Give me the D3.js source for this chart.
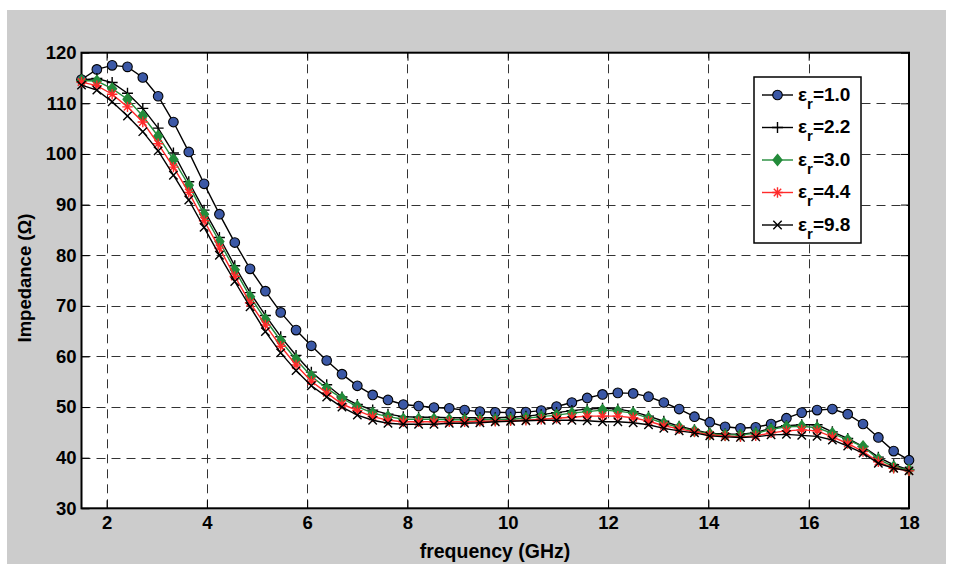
<!DOCTYPE html>
<html>
<head>
<meta charset="utf-8">
<script src="https://cdn.jsdelivr.net/npm/d3@7"></script>
<style>
  html, body { margin: 0; padding: 0; background: #ffffff; }
  svg { display: block; }
  text { font-family: "Liberation Sans", Arial, Helvetica, sans-serif; font-weight: bold; fill: #000; }
</style>
</head>
<body>
<svg id="chart" width="954" height="564"></svg>
<script>
// ---------------- data ----------------
const freq = [1.5,1.806,2.111,2.417,2.722,3.028,3.333,3.639,3.944,4.25,4.556,4.861,5.167,5.472,5.778,6.083,6.389,6.694,7,7.306,7.611,7.917,8.222,8.528,8.833,9.139,9.444,9.75,10.056,10.361,10.667,10.972,11.278,11.583,11.889,12.194,12.5,12.806,13.111,13.417,13.722,14.028,14.333,14.639,14.944,15.25,15.556,15.861,16.167,16.472,16.778,17.083,17.389,17.694,18];

const er10 = [114.7,116.7,117.5,117.2,115.1,111.4,106.3,100.4,94.1,88.1,82.5,77.3,72.9,68.7,65.2,62.1,59.2,56.5,54.2,52.4,51.4,50.5,50.2,49.9,49.75,49.4,49.1,48.97,48.9,49.0,49.3,50.1,50.9,51.8,52.5,52.8,52.7,52.05,50.9,49.6,48.1,47.0,46.1,45.8,46.0,46.65,47.8,48.9,49.4,49.6,48.6,46.65,44.0,41.3,39.5];
const er22 = [114.6,114.9,114.1,112.0,109.0,105.1,100.2,94.5,88.9,83.5,77.9,72.6,68.1,63.9,60.2,56.9,54.4,52.0,50.5,49.4,48.6,48.1,48.0,48.0,47.9,47.9,47.9,47.9,48.0,48.2,48.5,48.9,49.3,49.6,49.75,49.6,49.1,48.2,47.2,46.2,45.5,44.8,44.7,44.6,45.0,45.8,46.3,46.5,46.5,45.1,43.8,42.2,40.1,38.6,37.6];
const er30 = [114.5,114.4,112.9,110.8,107.5,103.5,98.9,93.8,88.1,82.7,77.1,71.8,67.3,63.1,59.4,56.1,53.7,51.7,50.1,48.8,48.1,47.6,47.6,47.6,47.5,47.5,47.5,47.5,47.6,47.8,48.1,48.4,48.8,49.1,49.4,49.2,48.8,47.8,46.8,46.0,45.3,44.7,44.5,44.5,44.8,45.6,46.1,46.2,45.9,44.8,43.5,42.2,39.7,38.2,37.6];
const er44 = [114.2,113.5,111.8,109.3,106.3,102.0,97.4,92.4,86.8,81.4,75.8,70.6,66.2,62.0,58.3,55.1,52.8,50.6,49.3,48.1,47.4,47.1,47.1,47.1,47.1,47.1,47.2,47.2,47.3,47.4,47.6,47.8,48.0,48.2,48.2,48.2,47.9,47.2,46.3,45.7,45.1,44.5,44.3,44.1,44.3,44.9,45.3,45.5,45.3,44.1,42.8,41.2,39.2,37.9,37.4];
const er98 = [113.6,112.6,110.3,107.5,104.4,100.6,95.8,90.9,85.5,80.0,74.8,69.8,64.9,60.7,57.2,54.2,52.0,50.0,48.4,47.4,46.8,46.6,46.6,46.6,46.8,46.8,46.9,47.1,47.2,47.3,47.4,47.4,47.4,47.3,47.1,47.1,46.9,46.5,45.8,45.3,44.9,44.3,44.1,44.0,44.1,44.5,44.6,44.4,44.2,43.5,42.3,40.9,38.9,37.9,37.4];

const seriesLabels = ["1.0", "2.2", "3.0", "4.4", "9.8"];
const xTicks = [2, 4, 6, 8, 10, 12, 14, 16, 18];
const yTicks = [30, 40, 50, 60, 70, 80, 90, 100, 110, 120];
const xLabel = "frequency (GHz)";
const yLabel = "Impedance (\u03A9)";

// ---------------- styles ----------------
const styles = [
  { values: er10, line: "#000000", marker: "circle",   fill: "#3b58a6", stroke: "#000000" },
  { values: er22, line: "#000000", marker: "plus",     fill: "none",    stroke: "#000000" },
  { values: er30, line: "#238b3a", marker: "diamond",  fill: "#238b3a", stroke: "#238b3a" },
  { values: er44, line: "#ff2a2a", marker: "asterisk", fill: "none",    stroke: "#ff2a2a" },
  { values: er98, line: "#000000", marker: "cross",    fill: "none",    stroke: "#000000" }
];

const svg = d3.select("#chart");

// figure background
svg.append("rect").attr("x", 7).attr("y", 10).attr("width", 939).attr("height", 554).attr("fill", "#cccccc");

const x = d3.scaleLinear().domain([1.5, 18]).range([81.5, 909]);
const y = d3.scaleLinear().domain([30, 120]).range([508.3, 52.7]);

const L = x.range()[0], R = x.range()[1], T = y.range()[1], B = y.range()[0];

// plot area
svg.append("rect").attr("x", L).attr("y", T).attr("width", R - L).attr("height", B - T).attr("fill", "#ffffff");

// grid
const grid = svg.append("g").attr("stroke", "#333").attr("stroke-width", 1).attr("stroke-dasharray", "9,6");
grid.selectAll("line.gx").data(xTicks.filter(d => d < 18)).enter().append("line")
  .attr("x1", d => Math.round(x(d)) + 0.5).attr("x2", d => Math.round(x(d)) + 0.5)
  .attr("y1", B).attr("y2", T);
grid.selectAll("line.gy").data(yTicks.filter(d => d > 30 && d < 120)).enter().append("line")
  .attr("x1", L).attr("x2", R)
  .attr("y1", d => Math.round(y(d)) + 0.5).attr("y2", d => Math.round(y(d)) + 0.5);

// axes with inward ticks
const tickLen = 8;
const axB = svg.append("g").attr("transform", `translate(0,${B})`)
  .call(d3.axisBottom(x).tickValues(xTicks).tickSizeInner(-tickLen).tickSizeOuter(0).tickPadding(8));
const axT = svg.append("g").attr("transform", `translate(0,${T})`)
  .call(d3.axisTop(x).tickValues(xTicks).tickSizeInner(-tickLen).tickSizeOuter(0).tickFormat(""));
const axL = svg.append("g").attr("transform", `translate(${L},0)`)
  .call(d3.axisLeft(y).tickValues(yTicks).tickSizeInner(-tickLen).tickSizeOuter(0).tickPadding(5));
const axR = svg.append("g").attr("transform", `translate(${R},0)`)
  .call(d3.axisRight(y).tickValues(yTicks).tickSizeInner(-tickLen).tickSizeOuter(0).tickFormat(""));
[axB, axT, axL, axR].forEach(a => {
  a.select(".domain").remove();
  a.selectAll(".tick line").attr("stroke", "#000").attr("stroke-width", 1);
  a.selectAll("text").attr("font-size", 18.5).attr("font-family", "Liberation Sans, Arial, sans-serif").attr("font-weight", "bold").attr("fill", "#000");
});

// box
svg.append("rect").attr("x", L).attr("y", T).attr("width", R - L).attr("height", B - T)
  .attr("fill", "none").attr("stroke", "#000").attr("stroke-width", 2);

// axis labels
svg.append("text").attr("x", 495).attr("y", 558).attr("text-anchor", "middle")
  .attr("font-size", 19.5).text(xLabel);
svg.append("text").attr("transform", `translate(31,278) rotate(-90)`).attr("text-anchor", "middle")
  .attr("font-size", 18.5).text(yLabel);

// marker path generator
function markerPath(type, cx, cy) {
  switch (type) {
    case "circle": { const r = 4.8; return `M${cx - r},${cy}a${r},${r} 0 1,0 ${2 * r},0a${r},${r} 0 1,0 ${-2 * r},0Z`; }
    case "diamond": { const r = 5.5; return `M${cx},${cy - r}L${cx + r * 0.8},${cy}L${cx},${cy + r}L${cx - r * 0.8},${cy}Z`; }
    case "plus": { const r = 5.5; return `M${cx - r},${cy}L${cx + r},${cy}M${cx},${cy - r}L${cx},${cy + r}`; }
    case "cross": { const r = 4.2; return `M${cx - r},${cy - r}L${cx + r},${cy + r}M${cx - r},${cy + r}L${cx + r},${cy - r}`; }
    case "asterisk": { const r = 5.2, d = 3.7; return `M${cx - r},${cy}L${cx + r},${cy}M${cx},${cy - r}L${cx},${cy + r}M${cx - d},${cy - d}L${cx + d},${cy + d}M${cx - d},${cy + d}L${cx + d},${cy - d}`; }
  }
}

const line = d3.line().x(d => x(d[0])).y(d => y(d[1]));
const plot = svg.append("g");
styles.forEach(s => {
  const pts = freq.map((f, i) => [f, s.values[i]]);
  const g = plot.append("g");
  g.append("path").attr("d", line(pts)).attr("fill", "none").attr("stroke", s.line).attr("stroke-width", 1.4);
  g.selectAll("path.m").data(pts).enter().append("path").attr("class", "m")
    .attr("d", d => markerPath(s.marker, x(d[0]), y(d[1])))
    .attr("fill", s.fill).attr("stroke", s.stroke)
    .attr("stroke-width", s.marker === "circle" ? 1.1 : 1.4);
});

// legend
const lg = svg.append("g");
const lgX = 754, lgY = 77, lgW = 107, lgH = 166;
lg.append("rect").attr("x", lgX).attr("y", lgY).attr("width", lgW).attr("height", lgH)
  .attr("fill", "#fff").attr("stroke", "#000").attr("stroke-width", 1.5);
styles.forEach((s, i) => {
  const cy = 95 + i * 32.5;
  lg.append("line").attr("x1", 762).attr("x2", 793).attr("y1", cy).attr("y2", cy)
    .attr("stroke", s.line).attr("stroke-width", 1.4);
  lg.append("path").attr("d", markerPath(s.marker, 777.5, cy))
    .attr("fill", s.fill).attr("stroke", s.stroke).attr("stroke-width", s.marker === "circle" ? 1.1 : 1.4);
  const t = lg.append("text").attr("x", 798).attr("y", cy + 5.5).attr("font-size", 19);
  t.append("tspan").text("\u03B5");
  t.append("tspan").attr("dy", 8).attr("font-size", 15).text("r");
  t.append("tspan").attr("dy", -8).text("=" + seriesLabels[i]);
});
</script>
</body>
</html>
